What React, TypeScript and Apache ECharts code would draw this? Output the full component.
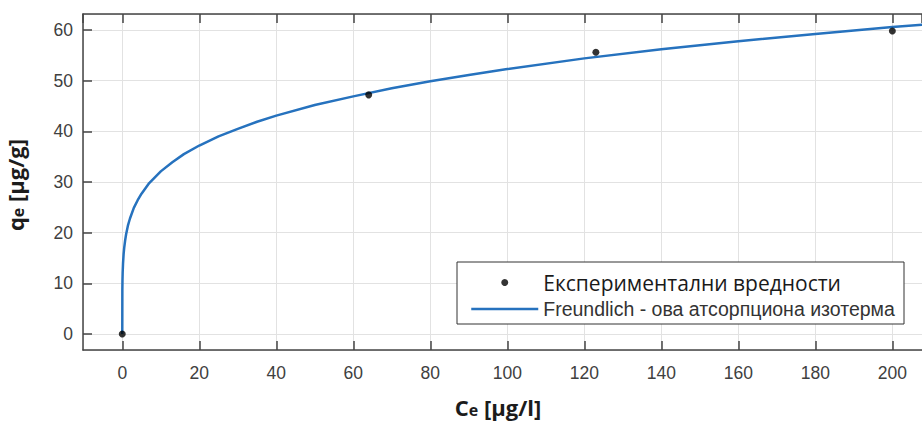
import React, { useEffect, useRef } from 'react';
import * as echarts from 'echarts';

// Experimental points (Ce [µg/l], qe [µg/g])
const expC = [0, 64, 123, 200];
const expQ = [0, 47.2, 55.6, 59.8];

// Freundlich isotherm curve
const fitC = [0, 0.02, 0.05, 0.1, 0.2, 0.35, 0.5, 0.75, 1, 1.5, 2, 3, 4, 5, 7, 10, 13, 16, 20, 25, 30, 35, 40, 50, 60, 70, 80, 90, 100, 120, 140, 160, 180, 200, 210];
const fitQ = [0, 8.6, 10.4, 12.1, 14.0, 15.8, 17.0, 18.5, 19.7, 21.5, 22.8, 24.9, 26.4, 27.7, 29.8, 32.1, 33.9, 35.5, 37.2, 39.0, 40.5, 41.9, 43.1, 45.2, 46.9, 48.5, 49.9, 51.1, 52.3, 54.4, 56.2, 57.8, 59.2, 60.6, 61.2];

const seriesNames = ['Експериментални вредности', 'Freundlich - ова атсорпциона изотерма'];

const X_MIN = -10.2;
const X_MAX = 207.7;
const Y_MIN = -3.16;
const Y_MAX = 63.16;

export default function App() {
  const ref = useRef<HTMLDivElement>(null);

  useEffect(() => {
    if (!ref.current) return;
    const chart = echarts.init(ref.current, undefined, { renderer: 'svg' });
    const axisColor = '#444444';
    const labelStyle = { fontFamily: 'Liberation Sans, Arial, sans-serif', fontSize: 17.5, color: '#404040' };
    const expData = expC.map((c, i) => [c, expQ[i]]);
    const fitData = fitC.map((c, i) => [c, fitQ[i]]);
    const titleRich = {
      b: { fontFamily: 'Open Sans, sans-serif', fontWeight: 'bold', fontSize: 22, fill: '#1c1c1c', lineHeight: 20, verticalAlign: 'bottom' },
      s: { fontFamily: 'Open Sans, sans-serif', fontWeight: 'bold', fontSize: 16, fill: '#1c1c1c', lineHeight: 18, verticalAlign: 'bottom' },
    };

    chart.setOption({
      animation: false,
      backgroundColor: '#ffffff',
      grid: { left: 83, top: 14, right: 0, bottom: 72, containLabel: false },
      xAxis: [
        {
          type: 'value',
          min: X_MIN,
          max: X_MAX,
          splitNumber: 11,
          position: 'bottom',
          axisLine: { show: true, onZero: false, lineStyle: { color: axisColor, width: 1.5 } },
          axisTick: { show: true, inside: true, length: 9, lineStyle: { color: axisColor, width: 1.5 } },
          axisLabel: { ...labelStyle, margin: 14, showMinLabel: false, showMaxLabel: false },
          splitLine: { show: true, lineStyle: { color: '#e2e2e2', width: 1 } },
        },
        {
          type: 'value',
          min: X_MIN,
          max: X_MAX,
          splitNumber: 11,
          position: 'top',
          axisLine: { show: true, onZero: false, lineStyle: { color: axisColor, width: 1.5 } },
          axisTick: { show: true, inside: true, length: 9, lineStyle: { color: axisColor, width: 1.5 } },
          axisLabel: { show: false },
          splitLine: { show: false },
        },
      ],
      yAxis: {
        type: 'value',
        min: Y_MIN,
        max: Y_MAX,
        splitNumber: 6,
        axisLine: { show: true, onZero: false, lineStyle: { color: axisColor, width: 1.5 } },
        axisTick: { show: true, inside: true, length: 9, lineStyle: { color: axisColor, width: 1.5 } },
        axisLabel: { ...labelStyle, margin: 10, showMinLabel: false, showMaxLabel: false },
        splitLine: { show: true, lineStyle: { color: '#e2e2e2', width: 1 } },
      },
      legend: {
        orient: 'vertical',
        left: 470,
        top: 272,
        padding: 0,
        itemWidth: 67,
        itemHeight: 7,
        itemGap: 6,
        z: 5,
        data: [
          {
            name: seriesNames[0],
            icon: 'circle',
            itemStyle: { color: '#000000' },
            textStyle: { fontFamily: 'Open Sans, Noto Sans, sans-serif', fontSize: 21, color: '#1a1a1a', lineHeight: 16 },
          },
          {
            name: seriesNames[1],
            itemStyle: { opacity: 0 },
            lineStyle: { color: '#2672BE', width: 2.5 },
            textStyle: { fontFamily: 'Liberation Sans, Arial, sans-serif', fontSize: 19.5, color: '#333333', lineHeight: 16 },
          },
        ],
      },
      graphic: [
        {
          type: 'rect',
          z: 4,
          shape: { x: 457, y: 262, width: 447, height: 62 },
          style: { fill: '#ffffff', stroke: '#333333', lineWidth: 1 },
        },
        {
          type: 'text',
          x: 498,
          y: 408,
          style: {
            text: '{b|C}{s|e}{b| [μg/l]}',
            align: 'center',
            verticalAlign: 'middle',
            rich: titleRich,
          },
        },
        {
          type: 'text',
          x: 16,
          y: 185,
          rotation: Math.PI / 2,
          style: {
            text: '{b|q}{s|e}{b| [μg/g]}',
            align: 'center',
            verticalAlign: 'middle',
            rich: titleRich,
          },
        },
      ],
      series: [
        {
          name: seriesNames[1],
          type: 'line',
          data: fitData,
          symbol: 'none',
          showSymbol: false,
          smooth: false,
          lineStyle: { color: '#2672BE', width: 2.5 },
          itemStyle: { color: '#2672BE' },
          z: 2,
        },
        {
          name: seriesNames[0],
          type: 'scatter',
          data: expData,
          symbol: 'circle',
          symbolSize: 7,
          itemStyle: { color: '#000000' },
          z: 3,
        },
      ],
    });

    return () => chart.dispose();
  }, []);

  return (
    <div
      ref={ref}
      style={{ position: 'fixed', left: 0, top: 0, width: 922, height: 422 }}
    />
  );
}
